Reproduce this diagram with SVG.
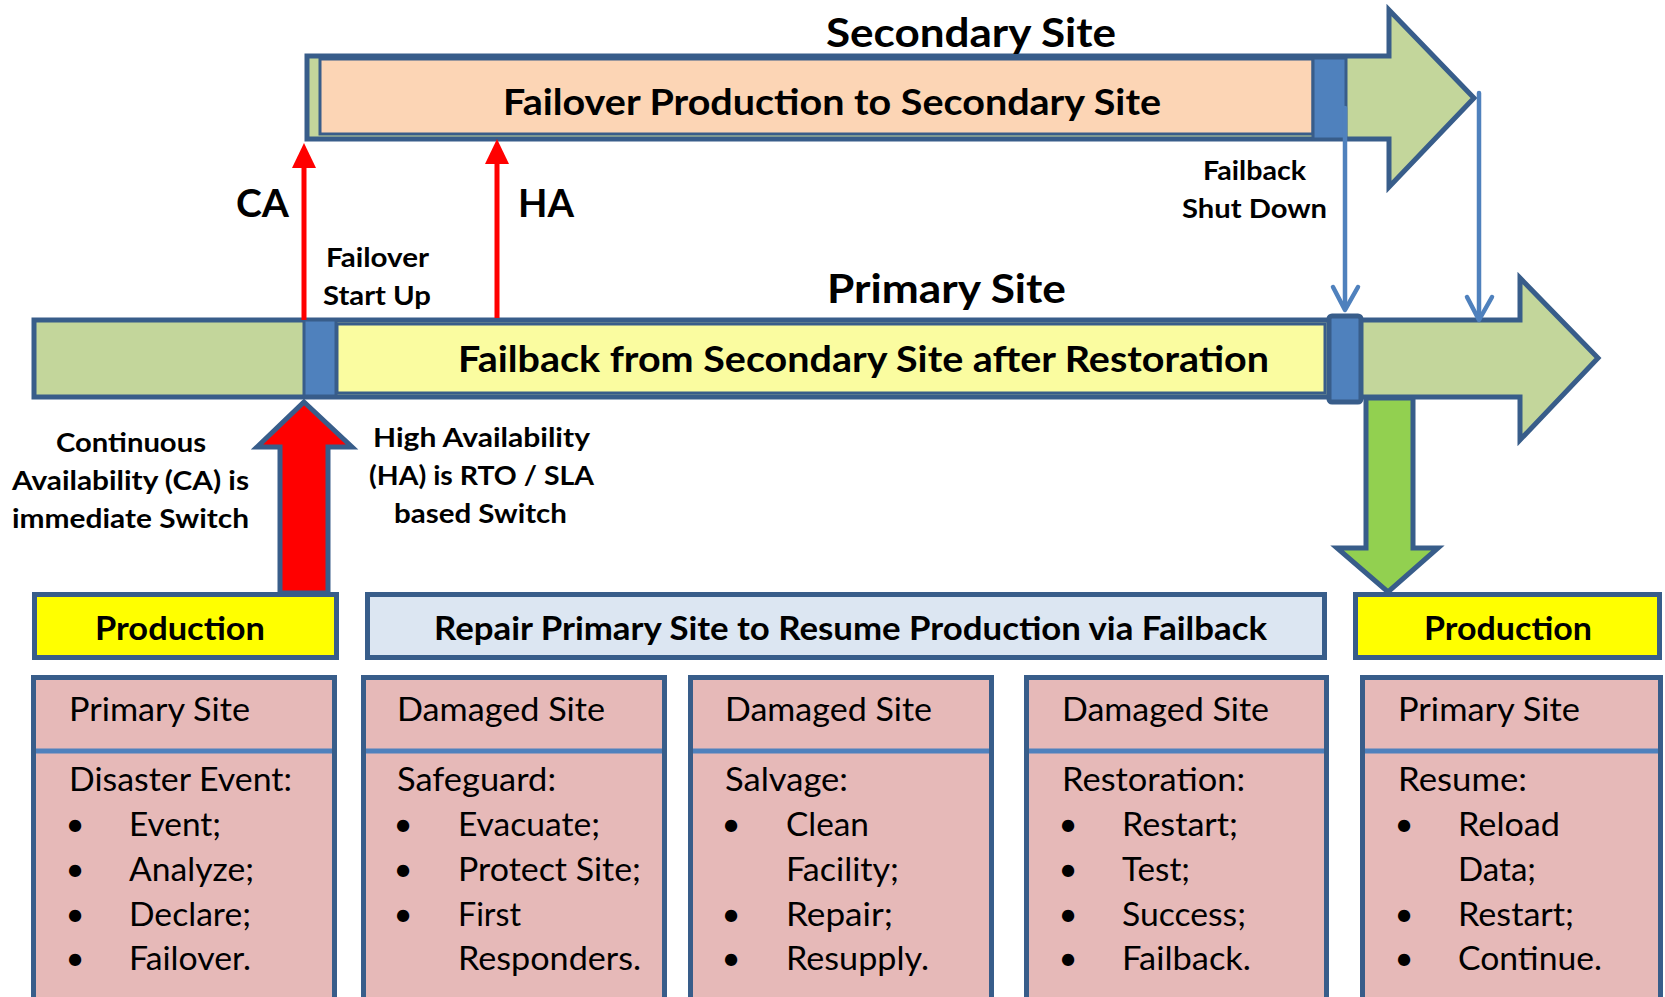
<svg xmlns="http://www.w3.org/2000/svg" width="1665" height="997" viewBox="0 0 1665 997">
<style>
.ol{stroke:#385D8A;stroke-width:5;stroke-linejoin:miter}
.ol3{stroke:#385D8A;stroke-width:3}
.grn{fill:#C3D69B}
.blu{fill:#4F81BD}
.b{font-family:Lato,"Open Sans","Liberation Sans",sans-serif;font-weight:bold;fill:#000}
.r{font-family:Lato,"Open Sans","Liberation Sans",sans-serif;font-weight:normal;fill:#000;font-size:33px}
.sep{stroke:#4F81BD;stroke-width:5}
.red{stroke:#FF0000;stroke-width:5;fill:none}
.thin{stroke:#4F81BD;stroke-width:4.5;fill:none;stroke-linecap:round;stroke-linejoin:round}
.pink{fill:#E6B9B8}
</style>
<rect width="1665" height="997" fill="#fff"/>

<g id="green-down-arrow">
<polygon class="ol" fill="#92D050" points="1366,398 1413,398 1413,548 1438,548 1388,592 1337,548 1366,548"/>
</g>

<g id="secondary-site">
<polygon class="ol grn" points="307,56 1389,56 1389,10 1474,98 1389,187 1389,139 307,139"/>
<rect class="ol3" x="320" y="59" width="993" height="75" fill="#FCD5B5"/>
<rect class="ol3 blu" x="1313" y="58" width="33" height="81"/>
<text class="b" x="826" y="47" font-size="40" textLength="290" lengthAdjust="spacingAndGlyphs">Secondary Site</text>
<text class="b" x="503" y="115" font-size="37" textLength="658" lengthAdjust="spacingAndGlyphs">Failover Production to Secondary Site</text>
</g>

<g id="primary-site">
<polygon class="ol grn" points="34,320 1520,320 1520,278 1598,358 1520,440 1520,397 34,397"/>
<rect class="ol3" x="337" y="324" width="988" height="69" fill="#FAFCA0"/>
<rect class="ol3 blu" x="304" y="320" width="32" height="76"/>
<rect class="ol blu" x="1329" y="316" width="32" height="86" rx="3"/>
<text class="b" x="827" y="303" font-size="40" textLength="239" lengthAdjust="spacingAndGlyphs">Primary Site</text>
<text class="b" x="458" y="372" font-size="37" textLength="811" lengthAdjust="spacingAndGlyphs">Failback from Secondary Site after Restoration</text>
</g>

<g id="connectors">
<line class="red" x1="304" y1="320" x2="304" y2="162"/>
<polygon fill="#FF0000" points="304,143 316,168 292,168"/>
<line class="red" x1="497" y1="318" x2="497" y2="158"/>
<polygon fill="#FF0000" points="497,139 509,164 485,164"/>
<line class="thin" x1="1345" y1="108" x2="1345" y2="308"/>
<polyline class="thin" points="1333,287 1345,310 1358,287"/>
<line class="thin" x1="1479" y1="93" x2="1479" y2="318"/>
<polyline class="thin" points="1467,297 1479,320 1492,297"/>
</g>

<g id="red-up-arrow">
<polygon class="ol" fill="#FF0000" points="304,402 352,447 328,447 328,593 280,593 280,447 257,447"/>
</g>

<g id="labels">
<text class="b" x="236" y="217" font-size="39" textLength="53" lengthAdjust="spacingAndGlyphs">CA</text>
<text class="b" x="518" y="217" font-size="39" textLength="56" lengthAdjust="spacingAndGlyphs">HA</text>
<text class="b" x="326" y="267" font-size="26" textLength="103" lengthAdjust="spacingAndGlyphs">Failover</text>
<text class="b" x="323" y="305" font-size="26" textLength="108" lengthAdjust="spacingAndGlyphs">Start Up</text>
<text class="b" x="1203" y="180" font-size="26" textLength="103" lengthAdjust="spacingAndGlyphs">Failback</text>
<text class="b" x="1182" y="218" font-size="26" textLength="145" lengthAdjust="spacingAndGlyphs">Shut Down</text>
<text class="b" x="56" y="452" font-size="26" textLength="150" lengthAdjust="spacingAndGlyphs">Continuous</text>
<text class="b" x="12" y="490" font-size="26" textLength="237" lengthAdjust="spacingAndGlyphs">Availability (CA) is</text>
<text class="b" x="12" y="528" font-size="26" textLength="237" lengthAdjust="spacingAndGlyphs">immediate Switch</text>
<text class="b" x="373" y="447" font-size="26" textLength="217" lengthAdjust="spacingAndGlyphs">High Availability</text>
<text class="b" x="369" y="485" font-size="26" textLength="225" lengthAdjust="spacingAndGlyphs">(HA) is RTO / SLA</text>
<text class="b" x="394" y="523" font-size="26" textLength="173" lengthAdjust="spacingAndGlyphs">based Switch</text>
</g>

<g id="production-left">
<rect class="ol" x="34.5" y="594.5" width="302" height="63" fill="#FFFF00"/>
<text class="b" x="95" y="640" font-size="32" textLength="170" lengthAdjust="spacingAndGlyphs">Production</text>
</g>
<g id="repair">
<rect class="ol" x="367.5" y="594.5" width="957" height="63" fill="#DCE6F2"/>
<text class="b" x="434" y="640" font-size="32" textLength="833" lengthAdjust="spacingAndGlyphs">Repair Primary Site to Resume Production via Failback</text>
</g>
<g id="production-right">
<rect class="ol" x="1355.5" y="594.5" width="304" height="63" fill="#FFFF00"/>
<text class="b" x="1424" y="640" font-size="32" textLength="168" lengthAdjust="spacingAndGlyphs">Production</text>
</g>

<g id="box-disaster">
<rect class="ol pink" x="33.5" y="677.5" width="301" height="340"/>
<line class="sep" x1="36" y1="751" x2="332" y2="751"/>
<text class="r" x="69" y="721" textLength="181" lengthAdjust="spacingAndGlyphs">Primary Site</text>
<text class="r" x="69" y="791" textLength="223" lengthAdjust="spacingAndGlyphs">Disaster Event:</text>
<text class="r" x="75" y="836" text-anchor="middle">•</text>
<text class="r" x="129" y="836" textLength="92" lengthAdjust="spacingAndGlyphs">Event;</text>
<text class="r" x="75" y="881" text-anchor="middle">•</text>
<text class="r" x="129" y="881" textLength="125" lengthAdjust="spacingAndGlyphs">Analyze;</text>
<text class="r" x="75" y="926" text-anchor="middle">•</text>
<text class="r" x="129" y="926" textLength="122" lengthAdjust="spacingAndGlyphs">Declare;</text>
<text class="r" x="75" y="970" text-anchor="middle">•</text>
<text class="r" x="129" y="970" textLength="122" lengthAdjust="spacingAndGlyphs">Failover.</text>
</g>

<g id="box-safeguard">
<rect class="ol pink" x="363.5" y="677.5" width="301" height="340"/>
<line class="sep" x1="366" y1="751" x2="662" y2="751"/>
<text class="r" x="397" y="721" textLength="208" lengthAdjust="spacingAndGlyphs">Damaged Site</text>
<text class="r" x="397" y="791" textLength="159" lengthAdjust="spacingAndGlyphs">Safeguard:</text>
<text class="r" x="403" y="836" text-anchor="middle">•</text>
<text class="r" x="458" y="836" textLength="142" lengthAdjust="spacingAndGlyphs">Evacuate;</text>
<text class="r" x="403" y="881" text-anchor="middle">•</text>
<text class="r" x="458" y="881" textLength="183" lengthAdjust="spacingAndGlyphs">Protect Site;</text>
<text class="r" x="403" y="926" text-anchor="middle">•</text>
<text class="r" x="458" y="926" textLength="63" lengthAdjust="spacingAndGlyphs">First</text>
<text class="r" x="458" y="970" textLength="183" lengthAdjust="spacingAndGlyphs">Responders.</text>
</g>

<g id="box-salvage">
<rect class="ol pink" x="690.5" y="677.5" width="301" height="340"/>
<line class="sep" x1="693" y1="751" x2="989" y2="751"/>
<text class="r" x="725" y="721" textLength="207" lengthAdjust="spacingAndGlyphs">Damaged Site</text>
<text class="r" x="725" y="791" textLength="123" lengthAdjust="spacingAndGlyphs">Salvage:</text>
<text class="r" x="731" y="836" text-anchor="middle">•</text>
<text class="r" x="786" y="836" textLength="83" lengthAdjust="spacingAndGlyphs">Clean</text>
<text class="r" x="786" y="881" textLength="113" lengthAdjust="spacingAndGlyphs">Facility;</text>
<text class="r" x="731" y="926" text-anchor="middle">•</text>
<text class="r" x="786" y="926" textLength="107" lengthAdjust="spacingAndGlyphs">Repair;</text>
<text class="r" x="731" y="970" text-anchor="middle">•</text>
<text class="r" x="786" y="970" textLength="143" lengthAdjust="spacingAndGlyphs">Resupply.</text>
</g>

<g id="box-restoration">
<rect class="ol pink" x="1026.5" y="677.5" width="300" height="340"/>
<line class="sep" x1="1029" y1="751" x2="1324" y2="751"/>
<text class="r" x="1062" y="721" textLength="207" lengthAdjust="spacingAndGlyphs">Damaged Site</text>
<text class="r" x="1062" y="791" textLength="183" lengthAdjust="spacingAndGlyphs">Restoration:</text>
<text class="r" x="1068" y="836" text-anchor="middle">•</text>
<text class="r" x="1122" y="836" textLength="116" lengthAdjust="spacingAndGlyphs">Restart;</text>
<text class="r" x="1068" y="881" text-anchor="middle">•</text>
<text class="r" x="1122" y="881" textLength="68" lengthAdjust="spacingAndGlyphs">Test;</text>
<text class="r" x="1068" y="926" text-anchor="middle">•</text>
<text class="r" x="1122" y="926" textLength="124" lengthAdjust="spacingAndGlyphs">Success;</text>
<text class="r" x="1068" y="970" text-anchor="middle">•</text>
<text class="r" x="1122" y="970" textLength="129" lengthAdjust="spacingAndGlyphs">Failback.</text>
</g>

<g id="box-resume">
<rect class="ol pink" x="1362.5" y="677.5" width="298" height="340"/>
<line class="sep" x1="1365" y1="751" x2="1658" y2="751"/>
<text class="r" x="1398" y="721" textLength="182" lengthAdjust="spacingAndGlyphs">Primary Site</text>
<text class="r" x="1398" y="791" textLength="129" lengthAdjust="spacingAndGlyphs">Resume:</text>
<text class="r" x="1404" y="836" text-anchor="middle">•</text>
<text class="r" x="1458" y="836" textLength="102" lengthAdjust="spacingAndGlyphs">Reload</text>
<text class="r" x="1458" y="881" textLength="78" lengthAdjust="spacingAndGlyphs">Data;</text>
<text class="r" x="1404" y="926" text-anchor="middle">•</text>
<text class="r" x="1458" y="926" textLength="116" lengthAdjust="spacingAndGlyphs">Restart;</text>
<text class="r" x="1404" y="970" text-anchor="middle">•</text>
<text class="r" x="1458" y="970" textLength="144" lengthAdjust="spacingAndGlyphs">Continue.</text>
</g>
</svg>
